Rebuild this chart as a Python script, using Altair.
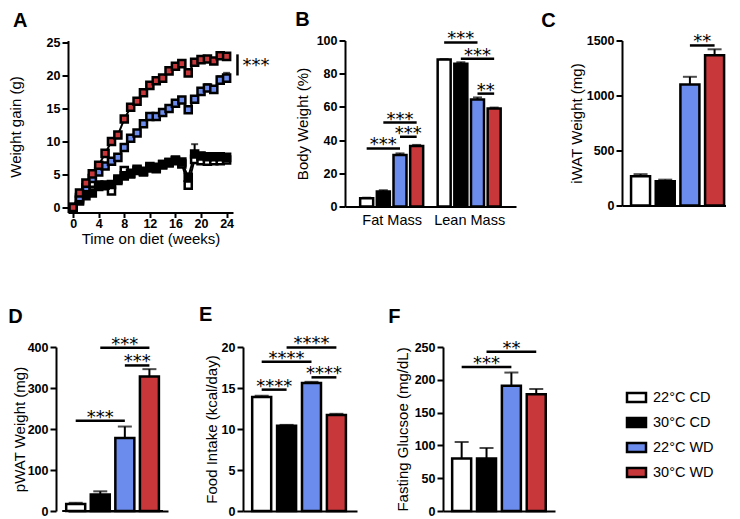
import altair as alt
import pandas as pd

FONT = "Liberation Sans"
STAR_FONT = "DejaVu Sans"

groups = ["22°C CD", "30°C CD", "22°C WD", "30°C WD"]
fills = ["#FFFFFF", "#000000", "#6B8CEC", "#C8383B"]

# ---- Panel A: weight gain over time ----
weeks = [0, 1, 2, 3, 4, 5, 6, 7, 8, 9, 10, 11, 12, 13, 14, 15, 16, 17, 18, 19, 20, 21, 22, 23, 24]
week_ticks = [0, 4, 8, 12, 16, 20, 24]
gain_ticks = [0, 5, 10, 15, 20, 25]
gain_22cd = [0, 1.0, 2.3, 3.7, 3.4, 3.3, 2.5, 4.1, 5.6, 5.1, 5.8, 5.4, 6.0, 5.9, 6.5, 6.8, 7.1, 6.6, 3.4, 7.3, 7.1, 7.0, 7.1, 7.1, 7.2]
gain_30cd = [0, 1.2, 1.8, 2.2, 3.2, 3.4, 3.5, 4.3, 4.8, 5.2, 5.6, 5.5, 6.2, 6.1, 6.5, 6.8, 7.2, 6.9, 4.6, 8.1, 7.8, 7.7, 7.7, 7.7, 7.6]
gain_22wd = [0, 1.5, 3.0, 4.4, 5.4, 6.3, 7.0, 7.6, 9.1, 10.5, 11.3, 12.7, 13.8, 13.8, 14.4, 15.0, 15.8, 16.3, 14.8, 16.4, 17.6, 18.1, 17.9, 19.3, 19.6]
gain_30wd = [0, 2.2, 3.7, 5.1, 6.4, 8.2, 10.0, 11.0, 13.4, 15.2, 16.1, 17.4, 18.5, 19.2, 19.6, 20.7, 21.4, 21.8, 20.4, 22.0, 22.4, 22.5, 22.2, 23.0, 22.9]
err_22cd = [0, 0.2, 0.3, 0.3, 0.3, 0.3, 0.3, 0.4, 0.4, 0.4, 0.4, 0.4, 0.4, 0.4, 0.4, 0.4, 0.4, 0.4, 0.5, 0.5, 0.4, 0.4, 0.4, 0.4, 0.4]
err_30cd = [0, 0.2, 0.3, 0.3, 0.3, 0.3, 0.3, 0.3, 0.4, 0.4, 0.4, 0.4, 0.4, 0.4, 0.4, 0.4, 0.4, 0.4, 0.5, 1.5, 0.5, 0.4, 0.4, 0.4, 0.4]
err_22wd = [0, 0.2, 0.3, 0.3, 0.3, 0.3, 0.3, 0.3, 0.3, 0.3, 0.3, 0.3, 0.4, 0.4, 0.4, 0.4, 0.4, 0.4, 0.4, 0.4, 0.4, 0.6, 0.4, 0.6, 0.8]
err_30wd = [0, 0.2, 0.3, 0.3, 0.3, 0.3, 0.3, 0.3, 0.3, 0.3, 0.3, 0.3, 0.3, 0.3, 0.3, 0.3, 0.3, 0.3, 0.3, 0.3, 0.3, 0.3, 0.3, 0.4, 0.4]
a_sig = {"week": 25.7, "low": 20.0, "high": 23.2, "label": "***"}

# ---- Panel B: body composition ----
comp_labels = ["Fat Mass", "Lean Mass"]
fat_pct = [5.0, 9.0, 31.0, 36.5]
fat_err = [0.3, 0.8, 1.0, 0.6]
lean_pct = [88.5, 86.0, 64.5, 59.0]
lean_err = [0.3, 0.9, 1.2, 0.6]
sig_b = [(0, 0, 2, 35.0, "***"), (0, 1, 3, 50.6, "***"), (0, 2, 3, 42.0, "***"),
         (1, 0, 2, 98.8, "***"), (1, 1, 3, 89.0, "***"), (1, 2, 3, 68.0, "**")]

# ---- Panels C-F ----
iwat = [265, 220, 1100, 1365]
iwat_err = [20, 15, 70, 55]
sig_c = [(2, 3, 1455, "**")]
pwat = [17, 40, 178, 328]
pwat_err = [3, 8, 28, 18]
sig_d = [(0, 2, 220, "***"), (1, 3, 398, "***"), (2, 3, 355, "***")]
food = [13.9, 10.4, 15.6, 11.7]
food_err = [0.15, 0.1, 0.15, 0.15]
sig_e = [(0, 1, 14.8, "****"), (0, 2, 18.2, "****"), (1, 3, 19.95, "****"), (2, 3, 16.3, "****")]
glucose = [80, 80, 191, 178]
glucose_err = [25, 16, 20, 8]
sig_f = [(0, 2, 219.5, "***"), (1, 3, 242.6, "**")]

# ---------------------------------------------------------------
STAR_SIZE = 18
STAR_DY = 2

fill_scale = alt.Scale(domain=groups, range=fills)
legend = alt.Legend(
    orient="none", legendX=186, legendY=43, title=None,
    symbolType="M-1.6,-0.76H1.6V0.76H-1.6Z", symbolSize=141,
    symbolStrokeColor="black", symbolStrokeWidth=2.5, symbolOpacity=1,
    labelFont=FONT, labelFontSize=14.5, labelColor="black",
    labelOffset=9, rowPadding=4,
)
fill_plain = alt.Fill("group:N", scale=fill_scale, legend=None)
fill_leg = alt.Fill("group:N", scale=fill_scale, legend=legend)


def letter_title(letter, dx, offset):
    return alt.TitleParams(text=letter, anchor="start", font=FONT, fontSize=20,
                           fontWeight="bold", color="black", dx=dx, offset=offset)


# ---- Panel A ----
rows = []
for g, gains, errs in zip(groups, [gain_22cd, gain_30cd, gain_22wd, gain_30wd],
                          [err_22cd, err_30cd, err_22wd, err_30wd]):
    for w, v, e in zip(weeks, gains, errs):
        rows.append({"group": g, "week": w, "gain": v, "top": v + e})
df_a = pd.DataFrame(rows)

xa = alt.X("week:Q", scale=alt.Scale(domain=[-0.8, 25], nice=False, zero=False),
           axis=alt.Axis(values=week_ticks, title="Time on diet (weeks)", labelFlush=False,
                         labelOverlap=False, labelPadding=0, titlePadding=1, tickSize=5))
ya_axis = alt.Axis(values=gain_ticks, title="Weight gain (g)", titlePadding=23, labelOverlap=False)
ya_scale = alt.Scale(domain=[-0.75, 25.3], nice=False, zero=False)
ya = alt.Y("gain:Q", scale=ya_scale, axis=ya_axis)

base_a = alt.Chart(df_a)
a_err = base_a.mark_rule(color="black", strokeWidth=2).encode(x=xa, y=ya, y2="top:Q")
a_cap = base_a.mark_tick(color="black", thickness=2, size=7, orient="horizontal").encode(
    x=xa, y=alt.Y("top:Q", scale=ya_scale, axis=ya_axis))
a_line = base_a.mark_line(color="black", strokeWidth=2).encode(x=xa, y=ya, detail="group:N")
a_pts = base_a.mark_square(size=50, stroke="black", strokeWidth=2.5, opacity=1).encode(
    x=xa, y=ya, fill=fill_plain)

df_asig = pd.DataFrame([{"week": a_sig["week"], "gain": a_sig["low"], "top": a_sig["high"],
                         "label": a_sig["label"]}])
a_sig_rule = alt.Chart(df_asig).mark_rule(color="black", strokeWidth=2.5).encode(x=xa, y=ya, y2="top:Q")
a_sig_text = alt.Chart(df_asig).transform_calculate(mid="(datum.gain + datum.top) / 2").mark_text(
    font=STAR_FONT, fontSize=STAR_SIZE, align="left", baseline="alphabetic", dx=5, dy=6, color="black"
).encode(x=xa, y=alt.Y("mid:Q", scale=ya_scale, axis=ya_axis), text="label:N")

panel_a = alt.layer(a_err, a_cap, a_line, a_pts, a_sig_rule, a_sig_text).properties(
    width=165, height=172, title=letter_title("A", 5, 5))


# ---- generic bar panel ----
PX_PER_SLOT = 27.3


def bar_panel(letter, df, sig_df, x_dom, x_axis, bw, cap, ydomain, yticks, ytitle, ytp,
              w, h, tdx, toff, fill_enc, y_offset=0):
    x_scale = alt.Scale(domain=x_dom, nice=False, zero=False)
    yscale = alt.Scale(domain=ydomain, nice=False, zero=True)
    yaxis = alt.Axis(values=yticks, title=ytitle, titlePadding=ytp, labelOverlap=False,
                     format="d", offset=y_offset)
    x = alt.X("slot:Q", scale=x_scale, axis=x_axis)
    y = alt.Y("value:Q", scale=yscale, axis=yaxis)
    base = alt.Chart(df)
    bars = base.mark_bar(width=bw, stroke="black", strokeWidth=2.5, opacity=1).encode(
        x=x, y=y, fill=fill_enc)
    err = base.mark_rule(color="black", strokeWidth=2).encode(x=x, y=y, y2="top:Q")
    caps = base.mark_tick(color="black", thickness=2, size=cap, orient="horizontal").encode(
        x=x, y=alt.Y("top:Q", scale=yscale, axis=yaxis))
    sbase = alt.Chart(sig_df)
    srule = sbase.mark_rule(color="black", strokeWidth=2.5).encode(
        x=x, x2="slot_end:Q", y=y)
    stext = sbase.mark_text(font=STAR_FONT, fontSize=STAR_SIZE, align="center", baseline="alphabetic",
                            dy=STAR_DY, color="black").encode(
        x=alt.X("mid:Q", scale=x_scale, axis=x_axis), y=y, text="label:N")
    layers = [bars, err, caps, srule, stext]
    if y_offset:
        # x baseline continued to the offset y axis (GraphPad style)
        base_df = pd.DataFrame([{"slot": x_dom[0] - y_offset / PX_PER_SLOT, "slot_end": x_dom[1],
                                 "value": ydomain[0]}])
        layers.insert(0, alt.Chart(base_df).mark_rule(color="black", strokeWidth=2).encode(
            x=x, x2="slot_end:Q", y=y))
    return alt.layer(*layers).properties(
        width=w, height=h, title=letter_title(letter, tdx, toff))


def simple_df(vals, errs):
    return pd.DataFrame([{"group": g, "slot": i + 1, "value": v, "top": v + e}
                         for i, (g, v, e) in enumerate(zip(groups, vals, errs))])


def simple_sig(sigs):
    return pd.DataFrame([{"slot": a + 1, "slot_end": b + 1, "mid": (a + b) / 2 + 1,
                          "value": yv, "label": lab} for a, b, yv, lab in sigs])


plain_x_axis = alt.Axis(labels=False, ticks=False, title=None, domain=True)


def plain_dom(width, first_px=15.0):
    start = 1 - first_px / PX_PER_SLOT
    return [start, start + width / PX_PER_SLOT]


# ---- Panel B ----
GROUP_GAP = 4.65
rows = []
for ci, (vals, errs) in enumerate([(fat_pct, fat_err), (lean_pct, lean_err)]):
    for i, (g, v, e) in enumerate(zip(groups, vals, errs)):
        rows.append({"group": g, "slot": i + 1 + ci * GROUP_GAP, "value": v, "top": v + e})
df_b = pd.DataFrame(rows)
sig_b_df = pd.DataFrame([{"slot": a + 1 + ci * GROUP_GAP, "slot_end": b + 1 + ci * GROUP_GAP,
                          "mid": (a + b) / 2 + 1 + ci * GROUP_GAP, "value": yv, "label": lab}
                         for ci, a, b, yv, lab in sig_b])
b_centers = [2.5 + ci * GROUP_GAP for ci in range(len(comp_labels))]
b_label_expr = "datum.value < %s ? '%s' : '%s'" % ((b_centers[0] + b_centers[1]) / 2,
                                                    comp_labels[0], comp_labels[1])
b_x_axis = alt.Axis(values=b_centers, labelExpr=b_label_expr, ticks=False, title=None,
                    labelFontWeight="normal", labelFontSize=14.5, labelPadding=7,
                    labelFlush=False, labelOverlap=False)
panel_b = bar_panel("B", df_b, sig_b_df, [0, 9.66], b_x_axis, 13, 9, [0, 100],
                    [0, 20, 40, 60, 80, 100], "Body Weight (%)", 6, 171, 166, 0, 0.5, fill_plain)

panel_c = bar_panel("C", simple_df(iwat, iwat_err), simple_sig(sig_c), plain_dom(104), plain_x_axis,
                    19, 14, [0, 1500], [0, 500, 1000, 1500], "iWAT Weight (mg)", 2, 104, 165, -28,
                    2, fill_plain)
panel_d = bar_panel("D", simple_df(pwat, pwat_err), simple_sig(sig_d), plain_dom(100, 3.0), plain_x_axis,
                    19, 14, [0, 400], [0, 100, 200, 300, 400], "pWAT Weight (mg)", 0, 100, 164, -4,
                    9, fill_plain, y_offset=12)
panel_e = bar_panel("E", simple_df(food, food_err), simple_sig(sig_e), plain_dom(114), plain_x_axis,
                    19, 14, [0, 20], [0, 5, 10, 15, 20], "Food Intake (kcal/day)", 2, 114, 164, -5,
                    10, fill_plain)
panel_f = bar_panel("F", simple_df(glucose, glucose_err), simple_sig(sig_f), plain_dom(112), plain_x_axis,
                    19, 14, [0, 250], [0, 50, 100, 150, 200, 250], "Fasting Glucsoe (mg/dL)", 4, 112, 164,
                    -7, 13, fill_leg)

row1 = alt.hconcat(panel_a, panel_b, panel_c, spacing=25)
row2 = alt.hconcat(panel_d, panel_e, panel_f, spacing=31).resolve_legend(fill="independent")

chart = alt.vconcat(row1, row2, spacing=58.5).resolve_legend(fill="independent").properties(
    padding={"left": 0, "top": 1.5, "right": 0, "bottom": 0}
).configure(background="white").configure_view(stroke=None).configure_axis(
    domainColor="black", domainWidth=2, tickColor="black", tickWidth=2, tickSize=6,
    labelFont=FONT, labelFontSize=12.5, labelFontWeight="bold", labelColor="black",
    labelPadding=2, titleFont=FONT, titleFontSize=15, titleFontWeight="normal",
    titleColor="black", grid=False,
)

chart.save("out.html", embed_options={"renderer": "svg", "actions": False})
